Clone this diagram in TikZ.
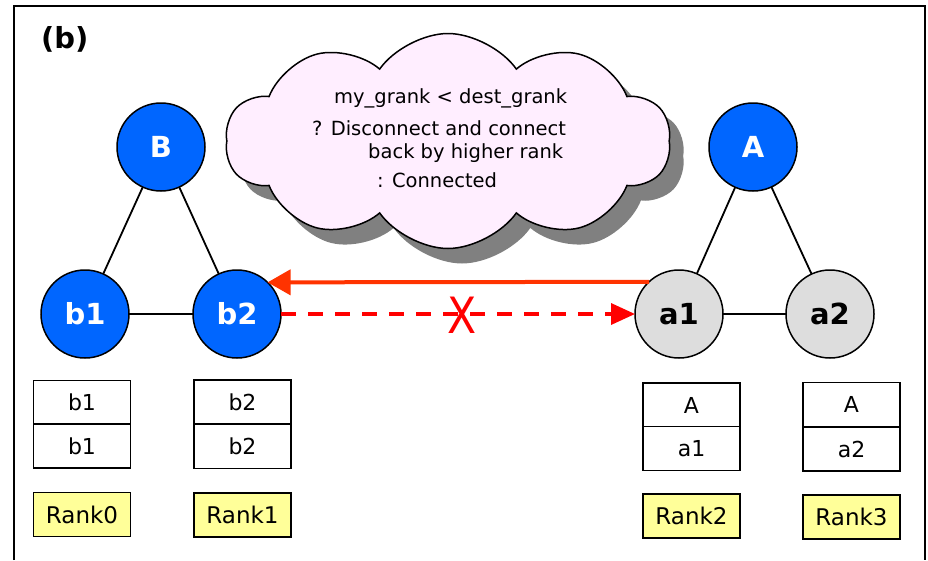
\documentclass[tikz,border=0pt]{standalone}
\usepackage{fontspec}
\setmainfont{DejaVu Sans}
\usetikzlibrary{shapes.symbols,shadows,arrows.meta}
\definecolor{nodeblue}{HTML}{0066FF}
\definecolor{nodegray}{HTML}{DDDDDD}
\definecolor{cloudpink}{HTML}{FFEEFF}
\definecolor{rankyellow}{HTML}{FFFF99}
\definecolor{arrowred}{HTML}{FF3300}
\definecolor{dashred}{HTML}{FF0000}
\definecolor{shadowgray}{HTML}{808080}
\tikzset{
  bnode/.style={circle,draw=black,line width=1.5pt,fill=nodeblue,minimum size=88pt,inner sep=0pt,outer sep=0pt,
    text=white,font=\fontsize{29}{29}\selectfont\bfseries},
  anode/.style={bnode,fill=nodegray,text=black},
  edge/.style={draw=black,line width=1.8pt},
  cellbox/.style={draw=black,line width=1.5pt,fill=white,minimum width=97pt,minimum height=44pt,inner sep=0pt,
    font=\fontsize{22}{22}\selectfont},
  rankbox/.style={draw=black,line width=1.5pt,fill=rankyellow,minimum width=97pt,minimum height=44pt,inner sep=0pt,
    font=\fontsize{23}{23}\selectfont},
  cloudtxt/.style={inner sep=0pt,font=\fontsize{19.5}{19.5}\selectfont,anchor=west},
}
\begin{document}
\begin{tikzpicture}[x=1pt,y=-1pt]
\useasboundingbox (0,0) rectangle (928,560);
% frame
\draw[line width=2pt] (14,560) -- (14,6) -- (925,6) -- (925,560);
\node[inner sep=0pt,anchor=west,font=\fontsize{29}{29}\selectfont\bfseries] (lbl) at (41,39) {(b)};
% cloud
\node[cloud,cloud puffs=10,cloud puff arc=110,aspect=2,draw=black,line width=1.5pt,fill=cloudpink,
  minimum width=445pt,minimum height=215pt,inner sep=0pt,
  drop shadow={shadow xshift=14pt,shadow yshift=-15pt,fill=shadowgray,opacity=1}] (cl) at (448,141) {};
\node[cloudtxt] (t1) at (334,98) {my\_grank < dest\_grank};
\node[cloudtxt] (t2) at (312,128) {? Disconnect and connect};
\node[cloudtxt] (t3) at (368,153) {back by higher rank};
\node[cloudtxt] (t4) at (377,180) {: Connected};
% nodes
\node[bnode] (B) at (161,147) {B};
\node[bnode] (b1) at (85,314) {b1};
\node[bnode] (b2) at (237,314) {b2};
\node[bnode] (A) at (753,147) {A};
\node[anode] (a1) at (679,314) {a1};
\node[anode] (a2) at (830,314) {a2};
\draw[edge] (B) -- (b1);
\draw[edge] (B) -- (b2);
\draw[edge] (b1) -- (b2);
\draw[edge] (A) -- (a1);
\draw[edge] (A) -- (a2);
\draw[edge] (a1) -- (a2);
% arrows
\draw[arrowred,line width=4pt,-{Triangle[length=23pt,width=25pt]}] (a1.133.3) -- (b2.46.7);
\draw[dashred,line width=3.5pt,dash pattern=on 15pt off 12pt,-{Triangle[length=24pt,width=21pt]}] (b2.east) -- (a1.west);
\node[text=dashred,inner sep=0pt,font=\fontsize{50}{50}\selectfont,xscale=0.85] (x) at (462,315) {X};
% boxes
\node[cellbox] (c1t) at (82,402.5) {b1};
\node[cellbox] (c1b) at (82,446) {b1};
\node[rankbox] (r0) at (82,514.5) {Rank0};
\node[cellbox] (c2t) at (242.5,402) {b2};
\node[cellbox] (c2b) at (242.5,446.5) {b2};
\node[rankbox] (r1) at (242.5,515) {Rank1};
\node[cellbox] (c3t) at (691.5,405) {A};
\node[cellbox] (c3b) at (691.5,448.5) {a1};
\node[rankbox] (r2) at (691.5,516) {Rank2};
\node[cellbox] (c4t) at (851.5,404.5) {A};
\node[cellbox] (c4b) at (851.5,449) {a2};
\node[rankbox] (r3) at (851.5,517) {Rank3};
\end{tikzpicture}
\end{document}
